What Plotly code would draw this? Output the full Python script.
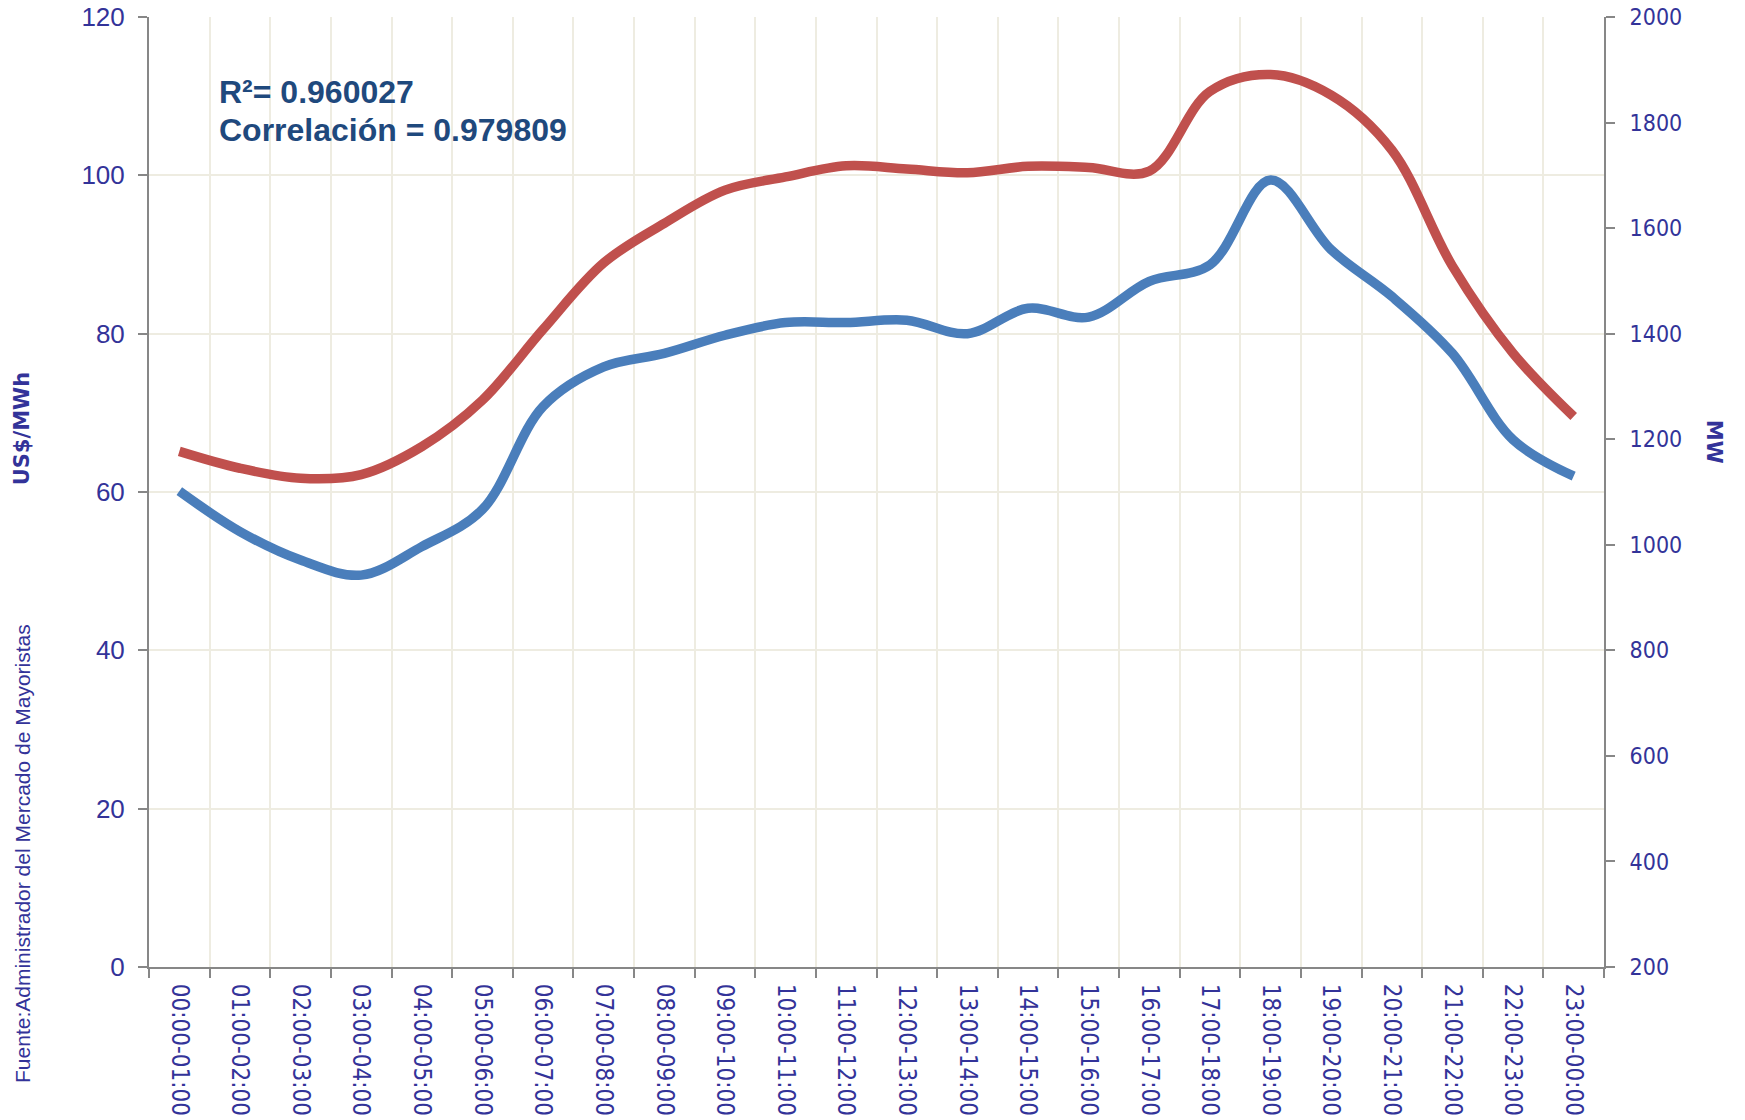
import plotly.graph_objects as go

hours = ["00:00-01:00", "01:00-02:00", "02:00-03:00", "03:00-04:00", "04:00-05:00",
         "05:00-06:00", "06:00-07:00", "07:00-08:00", "08:00-09:00", "09:00-10:00",
         "10:00-11:00", "11:00-12:00", "12:00-13:00", "13:00-14:00", "14:00-15:00",
         "15:00-16:00", "16:00-17:00", "17:00-18:00", "18:00-19:00", "19:00-20:00",
         "20:00-21:00", "21:00-22:00", "22:00-23:00", "23:00-00:00"]

precio_usd_mwh = [60.1, 55.0, 51.4, 49.5, 53.1, 57.8, 70.8, 75.8, 77.5, 79.8, 81.4, 81.4,
                  81.7, 80.0, 83.2, 82.1, 86.6, 88.7, 99.4, 90.6, 84.7, 77.5, 66.6, 62.0]

demanda_mw = [1177, 1145, 1126, 1133, 1186, 1274, 1408, 1534, 1609, 1672, 1697, 1718,
              1712, 1705, 1717, 1715, 1708, 1859, 1891, 1852, 1748, 1528, 1363, 1243]

left_ticks = [0, 20, 40, 60, 80, 100, 120]
right_ticks = [200, 400, 600, 800, 1000, 1200, 1400, 1600, 1800, 2000]

r2_text = "R²= 0.960027"
corr_text = "Correlación = 0.979809"
source_text = "Fuente:Administrador del Mercado de Mayoristas"

TXT = "#333399"
GRID = "#EEECE1"
AX = "#878787"
FAM = "DejaVu Sans Condensed, Liberation Sans, sans-serif"
ARIAL = "Liberation Sans, Arial, sans-serif"

fig = go.Figure()
fig.add_trace(go.Scatter(x=hours, y=demanda_mw, yaxis="y2", mode="lines",
                         line=dict(color="#C0504D", width=9.5, shape="spline", smoothing=1.0),
                         showlegend=False))
fig.add_trace(go.Scatter(x=hours, y=precio_usd_mwh, yaxis="y", mode="lines",
                         line=dict(color="#4A7EBB", width=9.5, shape="spline", smoothing=1.0),
                         showlegend=False))

fig.update_layout(
    width=1745, height=1120, autosize=False,
    margin=dict(l=149, r=141, t=17, b=153),
    paper_bgcolor="white", plot_bgcolor="white",
    xaxis=dict(type="category", range=[-0.5, 23.5], tickson="boundaries", automargin=False,
               showgrid=True, gridcolor=GRID, gridwidth=2,
               showline=True, linecolor=AX, linewidth=2,
               ticks="outside", ticklen=9, tickcolor=AX, tickwidth=2,
               tickangle=90, tickfont=dict(family=FAM, size=24, color=TXT),
               ticklabelstandoff=10, ticklabeloverflow="allow"),
    yaxis=dict(range=[0, 120], tickvals=left_ticks, automargin=False,
               showgrid=True, gridcolor=GRID, gridwidth=2,
               showline=True, linecolor=AX, linewidth=2, zeroline=False,
               ticks="outside", ticklen=9, tickcolor=AX, tickwidth=2,
               tickfont=dict(family=ARIAL, size=26, color=TXT), ticklabelstandoff=8,
               ticklabeloverflow="allow"),
    yaxis2=dict(range=[200, 2000], tickvals=right_ticks, overlaying="y", side="right",
                automargin=False, showgrid=False, zeroline=False,
                showline=True, linecolor=AX, linewidth=2,
                ticks="outside", ticklen=9, tickcolor=AX, tickwidth=2,
                tickfont=dict(family=FAM, size=23, color=TXT),
                ticklabelstandoff=10, ticklabeloverflow="allow"),
)

stat_font = dict(family=ARIAL, size=32, color="#1F497D", weight="bold")
fig.add_annotation(xref="paper", yref="paper", x=0.0477, y=0.921, xanchor="left", yanchor="middle",
                   text=r2_text, showarrow=False, borderpad=0, font=stat_font)
fig.add_annotation(xref="paper", yref="paper", x=0.0477, y=0.8814, xanchor="left", yanchor="middle",
                   text=corr_text, showarrow=False, borderpad=0, font=stat_font)
fig.add_annotation(xref="paper", yref="paper", x=-0.0873, y=0.567, textangle=-90,
                   xanchor="center", yanchor="middle",
                   text="<b>US$/MWh</b>", showarrow=False,
                   font=dict(family="DejaVu Sans, sans-serif", size=21, color=TXT))
fig.add_annotation(xref="paper", yref="paper", x=1.0756, y=0.553, textangle=90,
                   xanchor="center", yanchor="middle",
                   text="<b>MW</b>", showarrow=False,
                   font=dict(family="DejaVu Sans, sans-serif", size=21, color=TXT))
fig.add_annotation(xref="paper", yref="paper", x=-0.0873, y=0.12, textangle=-90,
                   xanchor="center", yanchor="middle",
                   text=source_text, showarrow=False,
                   font=dict(family=ARIAL, size=21, color=TXT))

# remove the browser's default 8px body margin so the figure fills the window exactly
fig.write_html("out.html", config={"displayModeBar": False},
               post_script="document.body.style.margin='0';")
